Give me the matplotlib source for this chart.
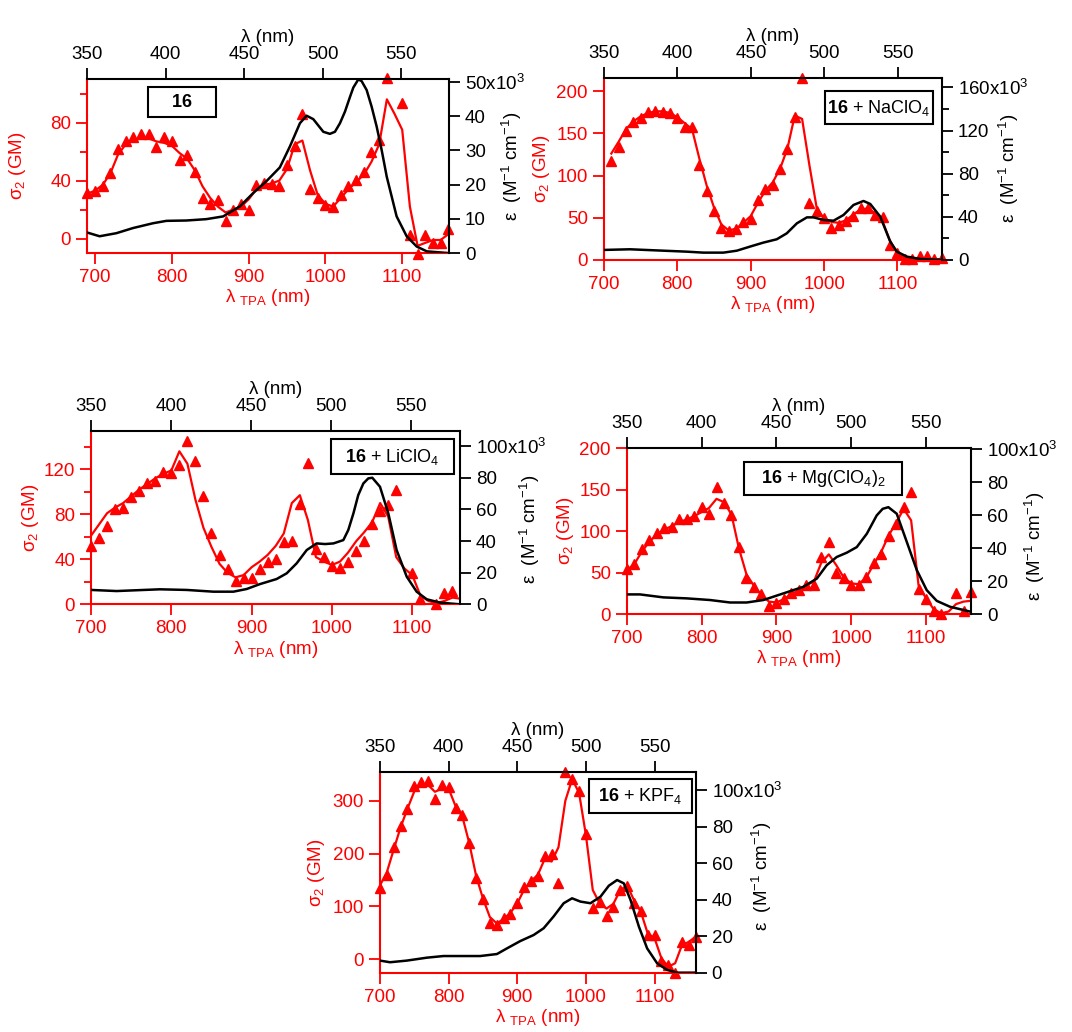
import numpy as np
import matplotlib
matplotlib.use('Agg')
import matplotlib.pyplot as plt
from matplotlib.patches import Rectangle
from matplotlib.ticker import FixedLocator, FuncFormatter

plt.rcParams['font.family'] = ['Liberation Sans', 'DejaVu Sans']
plt.rcParams['mathtext.fontset'] = 'custom'
plt.rcParams['mathtext.rm'] = 'Liberation Sans'
plt.rcParams['mathtext.it'] = 'Liberation Sans:italic'
plt.rcParams['mathtext.bf'] = 'Liberation Sans:bold'

RED = '#ff0000'
FS = 13.5

# ---- panel 1 : 16 ----
p1_tpa = [690, 700, 710, 720, 730, 740, 750, 760, 770, 780, 790, 800, 810, 820, 830, 840,
          850, 860, 870, 880, 890, 900, 910, 920, 930, 940, 950, 960, 970, 980, 990, 1000,
          1010, 1020, 1030, 1040, 1050, 1060, 1070, 1080, 1100, 1110, 1120, 1130, 1140, 1150, 1160]
p1_sigma = [31.7, 33, 36.5, 45, 62, 67, 70, 72, 72, 63, 70, 67.6, 54, 57.7, 46, 28,
            24, 26.7, 12, 20, 23.7, 20, 37, 38, 37.5, 36, 50.6, 64, 86, 34, 28, 23,
            22, 30, 36, 40.5, 46, 60, 68, 111, 93.6, 2.5, -10.6, 2.3, -3.2, -2.8, 6.4]
p1_fit_x = [690, 700, 710, 720, 730, 740, 750, 760, 770, 780, 790, 800, 810, 820, 830, 840,
            850, 860, 870, 880, 890, 900, 910, 920, 930, 940, 950, 960, 970, 980, 990, 1000,
            1010, 1020, 1030, 1040, 1050, 1060, 1070, 1080, 1090, 1100, 1110, 1120, 1130, 1140,
            1150, 1160]
p1_fit = [31, 33, 37, 45, 58, 65, 68, 69, 69, 67, 66, 64, 59, 55, 47, 36,
          28, 22, 18, 20, 22, 27, 34, 37, 38, 40, 48, 65, 67.6, 47, 30, 24,
          22, 28, 34, 39, 44, 53, 65, 96, 86, 75, 22, -5, -3, -1,
          -1, 3]
p1_lam = [350, 358, 368.7, 379.3, 392, 400.6, 413.3, 426, 436.7, 447.3, 455.8, 464.3, 472.8,
          479.2, 485.6, 489.8, 494.1, 500.5, 504.7, 507.9, 511.1, 514.3, 517.5, 519.6, 522.8,
          524.9, 528.1, 531.3, 534.5, 537.7, 540.9, 547.2, 553.6, 560, 566.4, 580]
p1_eps = [6.0, 4.9, 5.8, 7.3, 8.7, 9.4, 9.5, 9.9, 10.7, 13.6, 17.5, 21, 25,
          31.1, 37.9, 40.1, 39.1, 35.4, 34.8, 35.4, 37.9, 41.3, 45.6, 48.3, 50.7,
          50.2, 47.6, 42.7, 36.9, 30, 22.3, 10.7, 4.9, 1.9, 0.5, 0]

# ---- panel 2 : 16 + NaClO4 ----
p2_tpa = [710, 720, 730, 740, 750, 760, 770, 780, 790, 800, 810, 820, 830, 840, 850, 860,
          870, 880, 890, 900, 910, 920, 930, 940, 950, 960, 970, 980, 990, 1000, 1010, 1020,
          1030, 1040, 1050, 1060, 1070, 1080, 1090, 1100, 1110, 1120, 1130, 1140, 1150, 1160]
p2_sigma = [117, 134, 153, 163, 168, 175.5, 176.7, 175.5, 173.6, 168, 157, 157, 112, 82, 57.6, 37.5,
            34, 37, 45, 48.5, 71, 83.6, 88.4, 108, 131, 169, 216, 68, 58.4, 49.3, 37.5, 41,
            46.5, 52.5, 61.5, 61.5, 53, 51, 17.8, 8, 1, 1, 4.7, 4.7, 1, 2]
p2_fit_x = p2_tpa
p2_fit = [126, 140, 155, 164, 170, 174, 176, 176, 174, 169, 162, 155, 120, 88, 62, 42,
          35, 37, 44, 52, 68, 82, 92, 108, 132, 171, 167, 112, 61, 49, 45, 44,
          47, 54, 60, 61, 55, 45, 22, 8, 2, 1, 2, 2, 1, 1]
p2_lam = [350, 367.7, 390.4, 406.3, 417.6, 431.3, 440.4, 449.4, 458.5, 467.6, 474.4, 481.3,
          488.1, 492.6, 499.4, 506.2, 513, 519.8, 526.6, 531.2, 538, 544.8, 549.3, 556.1,
          565.2, 580]
p2_eps = [9.3, 9.9, 8.6, 7.7, 6.8, 6.8, 8.6, 12.4, 16.1, 19.2, 24.7, 34,
          39.5, 39.5, 37.1, 36.4, 41.7, 51, 54.7, 51.9, 40.2, 17, 7.7, 3.1,
          0.9, 0]

# ---- panel 3 : 16 + LiClO4 ----
p3_tpa = [700, 710, 720, 730, 740, 750, 760, 770, 780, 790, 800, 810, 820, 830, 840, 850,
          860, 870, 880, 890, 900, 910, 920, 930, 940, 950, 960, 970, 980, 990, 1000, 1010,
          1020, 1030, 1040, 1050, 1060, 1070, 1080, 1100, 1110, 1130, 1140, 1150]
p3_sigma = [51.9, 58.7, 70, 84.4, 85.9, 95, 101, 108, 110, 118, 117, 123.6, 145, 127.7, 96.6, 63.7,
            44, 31.7, 21, 23.7, 23.1, 31.4, 37.9, 40, 55.7, 56.6, 89.2, 125.3, 49.2, 42.4, 34.4, 32,
            37.3, 47.4, 56.3, 71, 83, 88.3, 102, 27.6, 4.4, 0, 10.4, 11.9]
p3_fit_x = [700, 710, 720, 730, 740, 750, 760, 770, 780, 790, 800, 810, 820, 830, 840, 850,
            860, 870, 880, 890, 900, 910, 920, 930, 940, 950, 960, 970, 980, 990, 1000, 1010,
            1020, 1030, 1040, 1050, 1060, 1070, 1080, 1090, 1100, 1110, 1120, 1130, 1140, 1150,
            1160]
p3_fit = [61, 71, 81, 86, 90, 96, 102, 107, 112, 116, 119, 136, 125, 93, 68, 51,
          36, 28, 24, 26, 33, 38, 44, 52, 63, 90, 97, 75, 42, 38, 35, 38,
          46, 56, 64, 73, 90, 78, 42, 32, 26, 8, 3, 1, 3, 6,
          5]
p3_lam = [350, 366, 393, 409.8, 426.5, 439, 447.3, 455.6, 466, 472.3, 478.5, 484.8, 491,
          496.3, 501.5, 507.7, 510.8, 514, 517, 520.2, 523.3, 525.8, 530.6, 535.8, 541, 547.3,
          553.5, 559.8, 568.1, 580.6]
p3_eps = [9.1, 8.4, 9.5, 9.1, 8, 8, 9.7, 12.8, 16, 19.6, 25.9, 34.3, 38.5,
          38.1, 38.5, 40.6, 47, 57.5, 69, 76.4, 79.6, 80, 74.3, 57.5, 34.3, 17.5,
          8, 3.2, 1.1, 0]

# ---- panel 4 : 16 + Mg(ClO4)2 ----
p4_tpa = [700, 710, 720, 730, 740, 750, 760, 770, 780, 790, 800, 810, 820, 830, 840, 850,
          860, 870, 880, 890, 900, 910, 920, 930, 940, 950, 960, 970, 980, 990, 1000, 1010,
          1020, 1030, 1040, 1050, 1060, 1070, 1080, 1090, 1100, 1110, 1120, 1140, 1150, 1160]
p4_sigma = [53.9, 60.4, 78, 89.3, 98.2, 104.2, 104.6, 114.7, 114.7, 118.7, 129.6, 120.3, 153.3, 134.4, 120, 81.3,
            43, 32.2, 23.7, 9.7, 12.9, 18.5, 25, 29, 35, 35, 68.4, 86.5, 50, 43, 35, 35,
            44.3, 62, 72.4, 94.6, 108.7, 128.8, 147.7, 30.2, 18.1, 4, 0, 25, 4, 27]
p4_fit_x = p3_fit_x
p4_fit = [53, 60, 75, 87, 96, 102, 106, 111, 114, 118, 123, 128, 139, 135, 120, 79,
          48, 34, 23, 15, 14, 18, 24, 29, 35, 39, 62, 72, 59, 44, 37, 36,
          44, 60, 75, 95, 110, 127, 113, 34, 19, 6, 1, 3, 12, 15,
          16]
p4_lam = [350, 358.9, 374.5, 390.1, 405.7, 419, 430.2, 441.3, 454.6, 468, 477, 483.6, 490.3,
          497, 503.7, 510.4, 517, 521, 524.8, 530.4, 537.1, 543.8, 550.4, 557.1, 566, 579.8]
p4_eps = [11.9, 11.9, 10.1, 9.5, 8.5, 7, 7, 8.5, 12.5, 16.5, 21.5, 29.6, 34.6,
          37.2, 40.6, 48.7, 59.8, 63.8, 64.8, 60.8, 43.7, 26.6, 14.5, 8, 4.4, 1.4]

# ---- panel 5 : 16 + KPF4 ----
p5_tpa = p3_fit_x
p5_sigma = [135.5, 159.5, 213, 252, 283.6, 327.7, 335.3, 337.2, 302.6, 329.7, 326.5, 286.8, 273, 219.3, 154.4, 113.4,
            69.3, 64.3, 77.5, 85, 107, 137.4, 148, 157.6, 196, 199, 143.7, 354.8, 341, 319, 238, 97.7,
            107.8, 82.6, 99.6, 131, 139.3, 105.9, 92, 46, 46, -3.2, -10.7, -26.5, 33.4, 27.1,
            42.9]
p5_fit_x = p3_fit_x
p5_fit = [140, 165, 208, 250, 285, 318, 330, 330, 317, 323, 323, 290, 270, 220, 158, 115,
          80, 68, 76, 88, 106, 132, 148, 160, 190, 185, 212, 300, 341, 315, 235, 131,
          106, 96, 105, 131, 140, 112, 90, 49, 40, 2, -14, -7.5, 27, 33,
          43]
p5_lam = [350, 357.3, 369.5, 384.1, 396.2, 408.4, 423, 435.2, 442.5, 452.2, 461.9, 469.2,
          476.4, 483.8, 489.9, 496, 503.3, 510.6, 516.7, 522.7, 527.6, 532.5, 538.6, 544.6,
          551.9, 559.2, 566.5, 580.4]
p5_eps = [6.6, 5.7, 6.6, 8.2, 9.1, 9.1, 9.1, 10.2, 13.3, 17.3, 20.6, 24.3,
          30.7, 38, 40.7, 38.9, 38, 41.6, 47.6, 50.7, 48.9, 39.8, 25.2, 13.3,
          5.1, 1.5, 0, 0]

box_labels = [r'$\mathbf{16}$',
              r'$\mathbf{16}$ + NaClO$_4$',
              r'$\mathbf{16}$ + LiClO$_4$',
              r'$\mathbf{16}$ + Mg(ClO$_4$)$_2$',
              r'$\mathbf{16}$ + KPF$_4$']


def panel(fig, rect, tpa, sigma, fit_x, fit, lam, eps, opts):
    ax = fig.add_axes(rect)
    axr = ax.twinx()
    axt = axr.twiny()

    # red TPA data on bottom / left axes
    ax.plot(fit_x, fit, color=RED, lw=1.6, zorder=3)
    ax.plot(tpa, sigma, '^', color=RED, ms=6.5, clip_on=False, zorder=4)
    ax.set_xlim(opts['xlim'])
    ax.set_ylim(opts['ylim'])
    ax.set_xticks([700, 800, 900, 1000, 1100])
    ax.yaxis.set_major_locator(FixedLocator(opts['yticks']))
    if opts.get('yminor'):
        ax.yaxis.set_minor_locator(FixedLocator(opts['yminor']))

    # black absorption spectrum on top / right axes
    axt.plot(lam, eps, color='black', lw=1.8)
    axt.set_xlim(opts['toplim'])
    axt.set_xticks([350, 400, 450, 500, 550])
    axr.set_ylim(opts['rlim'])
    axr.yaxis.set_major_locator(FixedLocator(opts['rticks']))
    if opts.get('rminor'):
        axr.yaxis.set_minor_locator(FixedLocator(opts['rminor']))
    top = opts['rticks'][-1]
    axr.yaxis.set_major_formatter(FuncFormatter(
        lambda v, p: '%gx10$^3$' % v if abs(v - top) < 1e-6 else '%g' % v))

    # spines
    for s in ['top', 'right']:
        ax.spines[s].set_visible(False)
    for s in ['left', 'bottom']:
        ax.spines[s].set_color(RED)
        ax.spines[s].set_linewidth(1.5)
    for s in ['left', 'top', 'bottom']:
        axr.spines[s].set_visible(False)
    axr.spines['right'].set_linewidth(1.5)
    for s in ['left', 'right', 'bottom']:
        axt.spines[s].set_visible(False)
    axt.spines['top'].set_linewidth(1.5)

    ax.tick_params(which='both', direction='out', colors=RED, labelsize=FS, width=1.3)
    ax.tick_params(which='major', length=8)
    ax.tick_params(which='minor', length=5)
    axr.tick_params(which='both', direction='out', labelsize=FS, width=1.3)
    axr.tick_params(which='major', length=8)
    axr.tick_params(which='minor', length=5)
    axt.tick_params(direction='out', labelsize=FS, width=1.3, length=8)

    ax.set_xlabel('λ $_{\\rm TPA}$ (nm)', color=RED, fontsize=FS, labelpad=1)
    ax.set_ylabel('σ$_2$ (GM)', color=RED, fontsize=FS)
    ax.yaxis.set_label_coords(opts['lpos'], 0.5)
    axr.set_ylabel('ε  (M$^{-1}$ cm$^{-1}$)', fontsize=FS)
    axr.yaxis.set_label_coords(opts['rpos'][0], opts['rpos'][1])
    axt.set_xlabel('λ (nm)', fontsize=FS, labelpad=3)

    # label box
    x0, x1, y0, y1 = opts['box']
    axt.add_patch(Rectangle((x0, y0), x1 - x0, y1 - y0, transform=axt.transAxes,
                            facecolor='white', edgecolor='black', lw=1.5, zorder=10))
    axt.text((x0 + x1) / 2, (y0 + y1) / 2, opts['label'], transform=axt.transAxes,
             ha='center', va='center', fontsize=13, zorder=11)


def main():
    fig = plt.figure(figsize=(10.72, 10.32), dpi=100)

    panel(fig, [0.0812, 0.7548, 0.3377, 0.1686], p1_tpa, p1_sigma, p1_fit_x, p1_fit, p1_lam, p1_eps,
          dict(xlim=(689.6, 1161), ylim=(-10, 110), yticks=[0, 40, 80], yminor=[20, 60, 100],
               toplim=(350, 580.6), rlim=(0, 50.8), rticks=[0, 10, 20, 30, 40, 50],
               lpos=-0.163, rpos=(1.141, 0.5), box=(0.1685, 0.356, 0.782, 0.954),
               label=box_labels[0]))
    panel(fig, [0.5634, 0.7481, 0.3153, 0.1766], p2_tpa, p2_sigma, p2_fit_x, p2_fit, p2_lam, p2_eps,
          dict(xlim=(708.6, 1160.6), ylim=(0, 215.8), yticks=[0, 50, 100, 150, 200],
               toplim=(350, 580), rlim=(0, 169), rticks=[0, 40, 80, 120, 160],
               rminor=[20, 60, 100, 140],
               lpos=-0.153, rpos=(1.162, 0.505), box=(0.653, 0.9725, 0.744, 0.927),
               label=box_labels[1]))
    panel(fig, [0.0849, 0.4144, 0.3442, 0.1679], p3_tpa, p3_sigma, p3_fit_x, p3_fit, p3_lam, p3_eps,
          dict(xlim=(700, 1159.4), ylim=(0, 154), yticks=[0, 40, 80, 120], yminor=[20, 60, 100, 140],
               toplim=(350, 580.6), rlim=(0, 109.5), rticks=[0, 20, 40, 60, 80, 100],
               lpos=-0.136, rpos=(1.157, 0.43), box=(0.650, 0.984, 0.750, 0.952),
               label=box_labels[2]))
    panel(fig, [0.5846, 0.4050, 0.3212, 0.1606], p4_tpa, p4_sigma, p4_fit_x, p4_fit, p4_lam, p4_eps,
          dict(xlim=(700, 1160), ylim=(0, 200), yticks=[0, 50, 100, 150, 200],
               toplim=(350, 580), rlim=(0, 100.5), rticks=[0, 20, 40, 60, 80, 100],
               lpos=-0.146, rpos=(1.151, 0.406), box=(0.3416, 0.7987, 0.718, 0.919),
               label=box_labels[3]))
    panel(fig, [0.3545, 0.0575, 0.2945, 0.1942], p5_tpa, p5_sigma, p5_fit_x, p5_fit, p5_lam, p5_eps,
          dict(xlim=(700, 1160), ylim=(-25.3, 354), yticks=[0, 100, 200, 300],
               toplim=(350, 580), rlim=(0, 109.7), rticks=[0, 20, 40, 60, 80, 100],
               lpos=-0.167, rpos=(1.172, 0.479), box=(0.661, 0.987, 0.795, 0.965),
               label=box_labels[4]))

    fig.savefig('out.png', dpi=100)


if __name__ == '__main__':
    main()
